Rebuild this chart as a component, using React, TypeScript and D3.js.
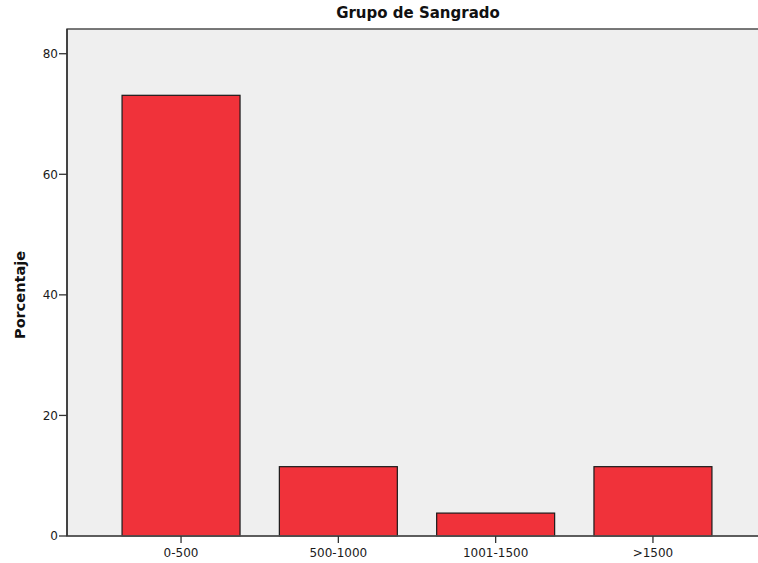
import React from "react";
import * as d3 from "d3";

const categories = ["0-500", "500-1000", "1001-1500", ">1500"];
const values = [73.1, 11.5, 3.8, 11.5];
const yTicks = [0, 20, 40, 60, 80];
const title = "Grupo de Sangrado";
const yLabel = "Porcentaje";

export default function App() {
  const W = 758, H = 563;
  const left = 67, right = 767, top = 29, bottom = 536;
  const x = d3.scaleBand<string>().domain(categories).range([left, right]).paddingInner(0.25).paddingOuter(0.35);
  const y = d3.scaleLinear().domain([0, 84.1]).range([bottom, top]);
  const font = "'DejaVu Sans', sans-serif";
  return (
    <svg width={W} height={H} style={{ position: "absolute", left: 0, top: 0 }} fontFamily={font}>
      <rect x={0} y={0} width={W} height={H} fill="#fff" />
      <rect x={left} y={top} width={right - left} height={bottom - top} fill="#efefef" stroke="#333" strokeWidth={1.3} />
      {categories.map((c, i) => (
        <rect key={c} x={x(c)} y={y(values[i])} width={x.bandwidth()} height={y(0) - y(values[i])}
          fill="#f0323a" stroke="#1a1a1a" strokeWidth={1.2} />
      ))}
      <line x1={left} x2={right} y1={bottom} y2={bottom} stroke="#555" strokeWidth={1.5} />
      <line x1={left} x2={left} y1={top} y2={bottom} stroke="#333" strokeWidth={1.5} />
      {yTicks.map(t => (
        <g key={t}>
          <line x1={left - 8} x2={left} y1={y(t)} y2={y(t)} stroke="#333" strokeWidth={1.3} />
          <text x={left - 9} y={y(t)} dy="0.36em" textAnchor="end" fontSize={12} fill="#1a1a1a">{t}</text>
        </g>
      ))}
      {categories.map(c => {
        const cx = (x(c) as number) + x.bandwidth() / 2;
        return (
          <g key={c}>
            <line x1={cx} x2={cx} y1={bottom} y2={bottom + 7} stroke="#333" strokeWidth={1.3} />
            <text x={cx} y={bottom + 21} textAnchor="middle" fontSize={12} fill="#1a1a1a">{c}</text>
          </g>
        );
      })}
      <text x={418} y={18} textAnchor="middle" fontSize={15} fontWeight="bold" fill="#111">{title}</text>
      <text transform={`translate(25,295) rotate(-90)`} textAnchor="middle" fontSize={14.5} fontWeight="bold" fill="#111">{yLabel}</text>
    </svg>
  );
}
